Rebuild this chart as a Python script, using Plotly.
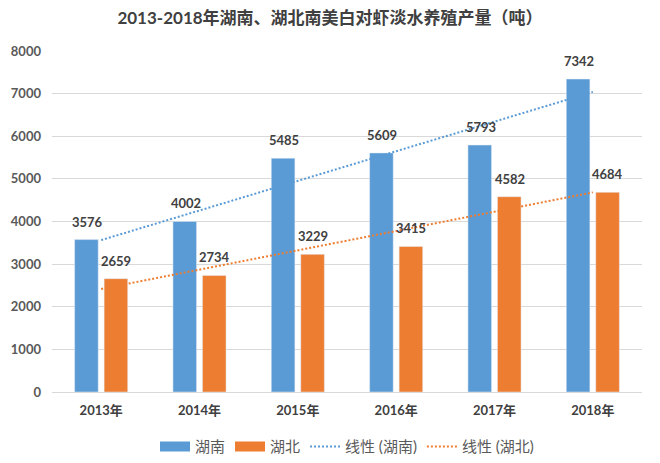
import numpy as np
import plotly.graph_objects as go

years = ["2013年", "2014年", "2015年", "2016年", "2017年", "2018年"]
hunan = [3576, 4002, 5485, 5609, 5793, 7342]
hubei = [2659, 2734, 3229, 3415, 4582, 4684]
y_ticks = [0, 1000, 2000, 3000, 4000, 5000, 6000, 7000, 8000]

BLUE = "#5B9BD5"
ORANGE = "#ED7D31"
FONT = "Lato, 'Noto Sans CJK SC', sans-serif"

xi = np.arange(1, len(years) + 1)
hn_fit = np.polyval(np.polyfit(xi, hunan, 1), xi)
hb_fit = np.polyval(np.polyfit(xi, hubei, 1), xi)

fig = go.Figure()
fig.add_trace(go.Bar(x=years, y=hunan, name="湖南", marker_color=BLUE, showlegend=False))
fig.add_trace(go.Bar(x=years, y=hubei, name="湖北", marker_color=ORANGE, showlegend=False))
# legend-only entries drawn as wide rectangles
fig.add_trace(go.Scatter(x=[None], y=[None], mode="lines", name="湖南",
                         line=dict(color=BLUE, width=10)))
fig.add_trace(go.Scatter(x=[None], y=[None], mode="lines", name="湖北",
                         line=dict(color=ORANGE, width=10)))
fig.add_trace(go.Scatter(x=years, y=hn_fit, mode="lines", name="线性 (湖南)",
                         line=dict(color=BLUE, width=2, dash="2px,2px")))
fig.add_trace(go.Scatter(x=years, y=hb_fit, mode="lines", name="线性 (湖北)",
                         line=dict(color=ORANGE, width=2, dash="2px,2px")))

annos = []
for yr, a, b in zip(years, hunan, hubei):
    for v, dx in ((a, -14), (b, 15)):
        annos.append(dict(x=yr, y=v, xref="x", yref="y", text="<b>%d</b>" % v,
                          showarrow=False, xshift=dx, yanchor="bottom", yshift=8,
                          font=dict(size=13, color="#404040", family=FONT)))

fig.update_layout(
    width=660, height=463,
    margin=dict(l=52, r=18, t=51, b=71),
    paper_bgcolor="white", plot_bgcolor="white",
    barmode="group", bargap=0.4, bargroupgap=0.2,
    title=dict(text="<b>2013-2018年湖南、湖北南美白对虾淡水养殖产量（吨）</b>",
               x=0.5, xanchor="center", y=0.962, yanchor="middle",
               font=dict(size=17, color="#404040", family=FONT)),
    font=dict(family=FONT, color="#595959"),
    legend=dict(orientation="h", x=0.5, xanchor="center",
                yref="container", y=0.035, yanchor="middle",
                font=dict(size=15, color="#595959", family=FONT),
                itemwidth=30, tracegroupgap=0),
    annotations=annos,
    showlegend=True,
)
fig.update_yaxes(range=[0, 8000], tickvals=y_ticks, showgrid=True, gridcolor="#D9D9D9",
                 gridwidth=1, zeroline=False, showline=False, ticks="", automargin=False,
                 tickfont=dict(size=13, color="#595959", family=FONT, weight="bold"),
                 ticklabelstandoff=10)
fig.update_xaxes(showline=True, linecolor="#D9D9D9", linewidth=1, ticks="", automargin=False,
                 tickfont=dict(size=13, color="#404040", family=FONT, weight="bold"),
                 ticklabelstandoff=6)

fig.write_html("out.html", config={"displayModeBar": False},
               post_script="document.body.style.margin='0';")
